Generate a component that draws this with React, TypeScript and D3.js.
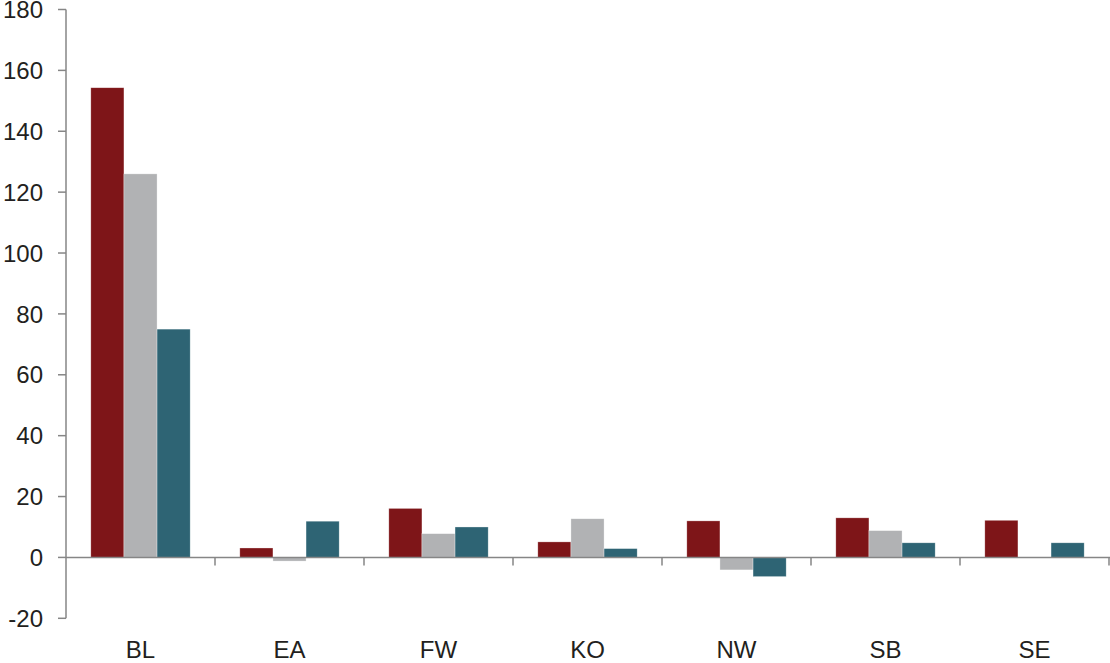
import React from "react";
import * as d3 from "d3";

const categories = ["BL", "EA", "FW", "KO", "NW", "SB", "SE"];
const seriesNames = ["Series 1", "Series 2", "Series 3"];
const series1 = [154.3, 3.1, 16.1, 5.1, 12.0, 13.0, 12.2];
const series2 = [126.0, -1.2, 7.8, 12.7, -4.1, 8.8, 0];
const series3 = [75.0, 11.9, 10.0, 2.9, -6.3, 4.8, 4.8];
const colors = ["#7E1518", "#B1B2B4", "#2E6474"];
const yTicks = [-20, 0, 20, 40, 60, 80, 100, 120, 140, 160, 180];

const W = 1110;
const H = 663;
const left = 66;
const right = 1109;
const top = 9.5;
const bottom = 618.3;

export default function App() {
  const data = [series1, series2, series3];
  const y = d3.scaleLinear().domain([-20, 180]).range([bottom, top]);
  const x0 = d3.scaleBand<string>().domain(categories).range([left, right]).padding(0);
  const bw = x0.bandwidth();
  const x1 = d3
    .scaleBand<number>()
    .domain([0, 1, 2])
    .range([bw / 6, bw - bw / 6])
    .padding(0);
  const font = "'Liberation Sans', Arial, sans-serif";
  const axisColor = "#868686";
  const y0 = y(0);

  return (
    <svg
      width={W}
      height={H}
      style={{ position: "absolute", left: 0, top: 0, background: "#fff" }}
      fontFamily={font}
    >
      {categories.map((c, i) => (
        <g key={c} transform={`translate(${x0(c)},0)`}>
          {data.map((s, si) => {
            const v = s[i];
            if (v === 0) return null;
            const yv = y(v);
            return (
              <rect
                key={si}
                x={x1(si)}
                y={Math.min(yv, y0)}
                width={x1.bandwidth()}
                height={Math.abs(y0 - yv)}
                fill={colors[si]}
                stroke="#ffffff"
                strokeOpacity={0.5}
                strokeWidth={0.6}
              />
            );
          })}
        </g>
      ))}
      {/* y axis */}
      <line x1={left} x2={left} y1={top} y2={bottom} stroke={axisColor} strokeWidth={1.5} />
      {yTicks.map((t) => (
        <g key={t}>
          <line x1={left - 8} x2={left} y1={y(t)} y2={y(t)} stroke={axisColor} strokeWidth={1.5} />
          <text
            x={43}
            y={y(t)}
            dy="0.36em"
            textAnchor="end"
            fontSize={24}
            fill="#231f20"
          >
            {t}
          </text>
        </g>
      ))}
      {/* x axis */}
      <line x1={left} x2={right + 1} y1={y0} y2={y0} stroke={axisColor} strokeWidth={1.5} />
      {categories.map((c, i) => (
        <g key={c}>
          {i > 0 && (
            <line
              x1={x0(c)}
              x2={x0(c)}
              y1={y0}
              y2={y0 + 8}
              stroke={axisColor}
              strokeWidth={1.5}
            />
          )}
          <text
            x={(x0(c) as number) + bw / 2}
            y={658}
            textAnchor="middle"
            fontSize={24}
            fill="#231f20"
          >
            {c}
          </text>
        </g>
      ))}
      <line x1={right} x2={right} y1={y0} y2={y0 + 8} stroke={axisColor} strokeWidth={1.5} />
    </svg>
  );
}
